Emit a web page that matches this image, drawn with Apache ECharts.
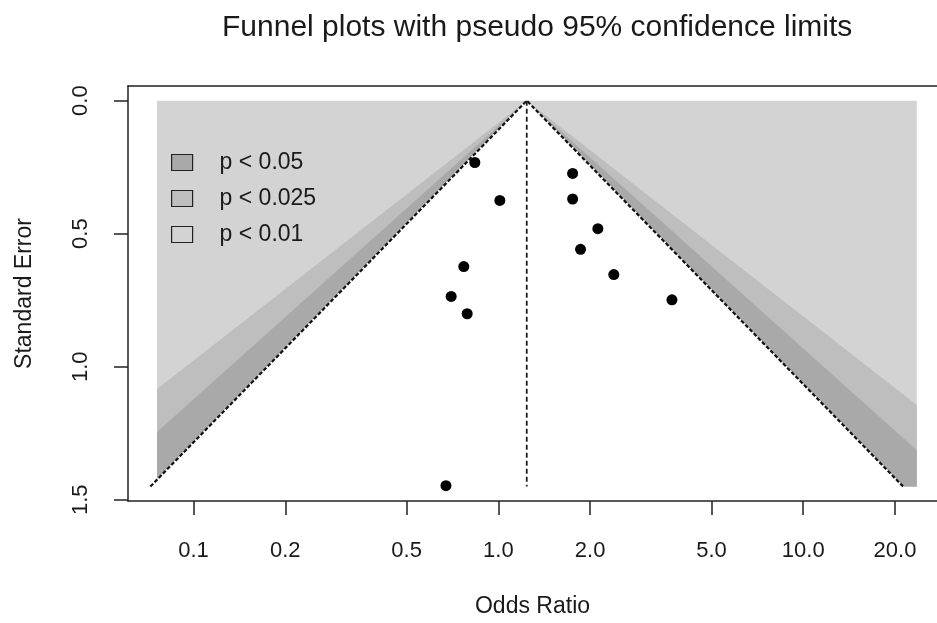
<!DOCTYPE html>
<html>
<head>
<meta charset="utf-8">
<script src="https://cdn.jsdelivr.net/npm/echarts@6/dist/echarts.min.js"></script>
<style>
html,body{margin:0;padding:0;background:#fff;}
#chart{width:937px;height:623px;}
</style>
</head>
<body>
<div id="chart"></div>
<script>
// ---- data ----
const studyOR = [0.837, 1.011, 0.770, 0.700, 0.790, 1.752, 1.752, 2.120, 1.860, 2.391, 3.710, 0.673];
const studySE = [0.2325, 0.375, 0.6236, 0.7361, 0.801, 0.2737, 0.3697, 0.4811, 0.5587, 0.6536, 0.7485, 1.4475];
const pooledOR = 1.239;            // apex / reference line
const seMax = 1.4505;              // bottom of funnel
const backRangeOR = [0.0759, 23.58]; // extent of the shaded background
const contourZ = [1.96, 2.2414, 2.5758]; // 95%, 97.5%, 99% pseudo limits
const contourLabels = ['p < 0.05', 'p < 0.025', 'p < 0.01'];
const contourColors = ['#a9a9a9', '#bebebe', '#d3d3d3'];
const xTickOR = [0.1, 0.2, 0.5, 1, 2, 5, 10, 20];
const xTickLabels = ['0.1', '0.2', '0.5', '1.0', '2.0', '5.0', '10.0', '20.0'];
const yTickSE = [0, 0.5, 1, 1.5];
const yTickLabels = ['0.0', '0.5', '1.0', '1.5'];
const xAxisRangeOR = [0.06095, 27.47];
const yAxisRangeSE = [-0.0551, 1.5049];

const FONT = 'Liberation Sans, Arial, Helvetica, sans-serif';
const TXT = '#1a1a1a';
const LINE = '#222';
const lg = v => Math.log10(v);
const u0 = lg(pooledOR);
const uL = lg(backRangeOR[0]), uR = lg(backRangeOR[1]);

function wedge(z) {
  const k = z / Math.LN10;
  const pts = [[u0, 0]];
  const ur = u0 + k * seMax;
  if (ur <= uR) pts.push([ur, seMax]); else { pts.push([uR, (uR - u0) / k]); pts.push([uR, seMax]); }
  const ul = u0 - k * seMax;
  if (ul >= uL) pts.push([ul, seMax]); else { pts.push([uL, seMax]); pts.push([uL, (u0 - uL) / k]); }
  return pts;
}
const backRect = [[uL, 0], [uR, 0], [uR, seMax], [uL, seMax]];

function polySeries(name, pts, color, z, stroke) {
  return {
    type: 'custom', name: name, z: z, clip: false, silent: true,
    itemStyle: { color: color },
    data: [[u0, 0]],
    renderItem: function (params, api) {
      const style = { fill: color };
      if (stroke) { style.stroke = color; style.lineWidth = 1.2; }
      return { type: 'polygon', shape: { points: pts.map(p => api.coord(p)) }, style: style, silent: true };
    }
  };
}

const k95 = contourZ[0] / Math.LN10;
const chart = echarts.init(document.getElementById('chart'), null, { renderer: 'canvas' });
chart.setOption({
  animation: false,
  backgroundColor: '#fff',
  title: {
    text: 'Funnel plots with pseudo 95% confidence limits',
    left: 222, top: 13, padding: 0,
    textStyle: { fontFamily: FONT, fontSize: 30, fontWeight: 'normal', color: TXT }
  },
  legend: {
    orient: 'vertical', left: 171, top: 151, padding: 0,
    itemWidth: 21, itemHeight: 16, itemGap: 13, icon: 'rect', selectedMode: false,
    data: contourLabels,
    itemStyle: { borderColor: '#222', borderWidth: 1.2 },
    textStyle: { fontFamily: FONT, fontSize: 23, color: TXT, lineHeight: 23, padding: [0, 0, 0, 22] }
  },
  grid: { left: 128, top: 86, width: 811, height: 416, show: false },
  xAxis: [{
    type: 'value', min: lg(xAxisRangeOR[0]), max: lg(xAxisRangeOR[1]), position: 'bottom',
    name: 'Odds Ratio', nameLocation: 'middle', nameGap: 94,
    nameTextStyle: { fontFamily: FONT, fontSize: 23, color: TXT },
    axisLine: { show: true, onZero: false, lineStyle: { color: LINE, width: 1.5 } },
    splitLine: { show: false },
    axisTick: { show: true, length: 14, customValues: xTickOR.map(lg), lineStyle: { color: LINE, width: 1.5 } },
    axisLabel: {
      customValues: xTickOR.map(lg), margin: 39, fontFamily: FONT, fontSize: 22, color: TXT,
      formatter: function (v) { const i = xTickOR.findIndex(t => Math.abs(lg(t) - v) < 1e-6); return i >= 0 ? xTickLabels[i] : ''; }
    }
  }, {
    type: 'value', min: lg(xAxisRangeOR[0]), max: lg(xAxisRangeOR[1]), position: 'top',
    axisLine: { show: true, onZero: false, lineStyle: { color: LINE, width: 1.5 } },
    axisTick: { show: false }, axisLabel: { show: false }, splitLine: { show: false }
  }],
  yAxis: {
    type: 'value', inverse: true, min: yAxisRangeSE[0], max: yAxisRangeSE[1],
    name: 'Standard Error', nameLocation: 'middle', nameGap: 92,
    nameTextStyle: { fontFamily: FONT, fontSize: 23, color: TXT },
    axisLine: { show: true, onZero: false, lineStyle: { color: LINE, width: 1.5 } },
    splitLine: { show: false },
    axisTick: { show: true, length: 14, customValues: yTickSE, lineStyle: { color: LINE, width: 1.5 } },
    axisLabel: {
      customValues: yTickSE, rotate: 90, margin: 36, fontFamily: FONT, fontSize: 22, color: TXT,
      formatter: function (v) { const i = yTickSE.findIndex(t => Math.abs(t - v) < 1e-6); return i >= 0 ? yTickLabels[i] : ''; }
    }
  },
  series: [
    polySeries(contourLabels[2], backRect, contourColors[2], 1, false),
    polySeries(contourLabels[1], wedge(contourZ[2]), contourColors[1], 2, false),
    polySeries(contourLabels[0], wedge(contourZ[1]), contourColors[0], 3, false),
    polySeries('inside', wedge(contourZ[0]), '#ffffff', 4, true),
    {
      type: 'line', z: 5, silent: true, symbol: 'none',
      data: [[u0 - k95 * seMax, seMax], [u0, 0], [u0 + k95 * seMax, seMax]],
      lineStyle: { color: '#111', width: 2.2, type: [4, 2] }
    },
    {
      type: 'line', z: 5, silent: true, symbol: 'none',
      data: [[u0, 0], [u0, seMax]],
      lineStyle: { color: '#222', width: 1.8, type: [5, 3] }
    },
    {
      type: 'scatter', z: 6, silent: true, symbol: 'circle', symbolSize: 11,
      itemStyle: { color: '#000', opacity: 1 },
      data: studyOR.map((o, i) => [lg(o), studySE[i]])
    }
  ]
});
</script>
</body>
</html>
